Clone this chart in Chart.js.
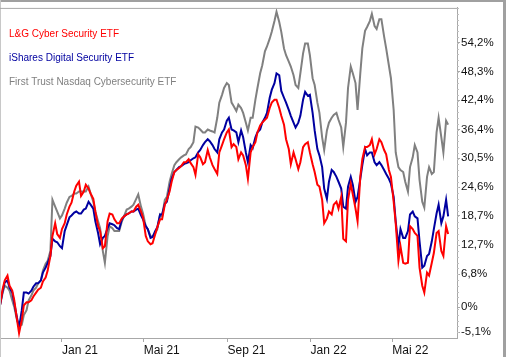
<!DOCTYPE html>
<html><head><meta charset="utf-8">
<script src="https://cdn.jsdelivr.net/npm/chart.js@4"></script>
<style>html,body{margin:0;padding:0;background:#fff;overflow:hidden}#wrap{position:relative;width:506px;height:357px}</style>
</head><body><div id="wrap"><canvas id="c" width="506" height="357"></canvas></div>
<script>
const dates = ['2020-10-02','2020-10-06','2020-10-09','2020-10-13','2020-10-16','2020-10-20','2020-10-23','2020-10-27','2020-10-30','2020-11-03',
'2020-11-06','2020-11-10','2020-11-13','2020-11-17','2020-11-20','2020-11-24','2020-11-27','2020-12-01','2020-12-04','2020-12-08',
'2020-12-11','2020-12-15','2020-12-18','2020-12-22','2020-12-25','2020-12-29','2021-01-01','2021-01-05','2021-01-08','2021-01-12',
'2021-01-15','2021-01-19','2021-01-22','2021-01-26','2021-01-29','2021-02-02','2021-02-05','2021-02-09','2021-02-12','2021-02-16',
'2021-02-19','2021-02-23','2021-02-26','2021-03-02','2021-03-05','2021-03-09','2021-03-12','2021-03-16','2021-03-19','2021-03-23',
'2021-03-26','2021-03-30','2021-04-02','2021-04-06','2021-04-09','2021-04-13','2021-04-16','2021-04-20','2021-04-23','2021-04-27',
'2021-04-30','2021-05-04','2021-05-07','2021-05-11','2021-05-14','2021-05-18','2021-05-21','2021-05-25','2021-05-28','2021-06-01',
'2021-06-04','2021-06-08','2021-06-11','2021-06-15','2021-06-18','2021-06-22','2021-06-25','2021-06-29','2021-07-02','2021-07-06',
'2021-07-09','2021-07-13','2021-07-16','2021-07-20','2021-07-23','2021-07-27','2021-07-30','2021-08-03','2021-08-06','2021-08-10',
'2021-08-13','2021-08-17','2021-08-20','2021-08-24','2021-08-27','2021-08-31','2021-09-03','2021-09-07','2021-09-10','2021-09-14',
'2021-09-17','2021-09-21','2021-09-24','2021-09-28','2021-10-01','2021-10-05','2021-10-08','2021-10-12','2021-10-15','2021-10-19',
'2021-10-22','2021-10-26','2021-10-29','2021-11-02','2021-11-05','2021-11-09','2021-11-12','2021-11-16','2021-11-19','2021-11-23',
'2021-11-26','2021-11-30','2021-12-03','2021-12-07','2021-12-10','2021-12-14','2021-12-17','2021-12-21','2021-12-24','2021-12-28',
'2021-12-31','2022-01-04','2022-01-07','2022-01-11','2022-01-14','2022-01-18','2022-01-21','2022-01-25','2022-01-28','2022-02-01',
'2022-02-04','2022-02-08','2022-02-11','2022-02-15','2022-02-18','2022-02-22','2022-02-25','2022-03-01','2022-03-04','2022-03-08',
'2022-03-11','2022-03-15','2022-03-18','2022-03-22','2022-03-25','2022-03-29','2022-04-01','2022-04-05','2022-04-08','2022-04-12',
'2022-04-15','2022-04-19','2022-04-22','2022-04-26','2022-04-29','2022-05-03','2022-05-06','2022-05-10','2022-05-13','2022-05-17',
'2022-05-20','2022-05-24','2022-05-27','2022-05-31','2022-06-03','2022-06-07','2022-06-10','2022-06-14','2022-06-17','2022-06-21',
'2022-06-24','2022-06-28','2022-07-01','2022-07-05','2022-07-08','2022-07-12','2022-07-15','2022-07-19','2022-07-22'];

const seriesNames = ['L&G Cyber Security ETF','iShares Digital Security ETF','First Trust Nasdaq Cybersecurity ETF'];

const lgCyber = [0.4,3.8,5.5,6.5,4.4,3.4,1.4,-2.6,-5.3,-2.6,
0.4,1.0,1.0,1.4,2.2,3.0,3.6,4.0,5.3,6.1,
7.5,10.5,14.6,17.2,15.0,14.2,16.0,17.2,19.0,20.6,
21.4,23.7,24.9,25.7,22.8,23.7,25.1,24.3,23.3,22.2,
19.6,16.6,15.6,12.1,12.5,17.6,19.2,19.0,18.0,17.2,
17.2,18.2,18.6,19.0,19.2,19.6,19.6,20.6,21.0,19.6,
18.4,14.6,13.5,12.9,13.1,15.0,16.4,18.0,18.0,21.0,
22.0,23.7,25.7,27.7,28.1,28.5,28.9,29.7,29.7,30.3,
29.5,28.7,27.1,31.3,30.7,29.3,29.7,32.2,30.7,29.1,
28.3,27.3,31.7,33.2,34.4,35.8,36.4,32.8,33.4,32.8,
30.3,31.7,31.1,29.1,26.3,31.7,32.8,33.8,35.8,37.2,
37.8,38.4,38.8,40.8,41.9,42.5,42.5,40.8,39.2,37.4,
34.4,32.4,29.3,31.7,30.3,28.3,29.7,32.8,33.4,33.8,
31.7,29.3,27.7,25.1,24.7,22.0,17.2,18.2,19.6,19.0,
21.0,21.6,20.2,22.6,14.0,13.5,22.0,25.3,23.1,20.2,
17.6,26.7,30.3,32.8,32.8,33.2,34.4,31.3,32.4,34.4,
33.8,32.2,31.3,28.1,26.7,21.6,17.2,9.5,12.5,9.1,
8.9,9.1,16.6,16.0,15.2,14.6,8.1,4.4,3.0,7.1,
6.5,9.1,11.1,15.2,15.6,11.5,10.5,16.6,15.0];

const iSharesDigital = [0.4,3.4,5.1,5.5,4.0,3.0,0.8,-2.2,-4.2,-0.6,
3.0,3.0,2.8,3.4,4.2,4.9,4.9,5.5,7.1,8.1,
9.1,10.5,14.0,13.5,13.3,12.5,12.1,15.6,16.8,18.4,
18.8,19.4,19.6,19.2,19.2,20.0,20.2,21.6,21.0,20.2,
17.6,15.2,12.9,14.2,14.6,16.2,17.2,17.0,16.8,16.2,
16.0,18.0,18.6,19.0,19.2,19.6,19.6,20.0,20.2,18.8,
18.0,16.6,16.0,14.2,14.4,15.6,16.4,19.0,19.0,21.2,
21.6,24.3,26.3,27.7,28.1,28.7,28.9,29.3,29.5,29.7,
30.1,30.5,30.7,31.7,32.2,33.2,33.8,34.4,34.0,33.2,
32.4,31.7,34.4,35.8,36.4,38.2,38.8,36.4,36.2,35.8,
33.8,36.2,34.8,31.7,29.7,33.2,32.6,34.8,35.8,36.4,
37.8,38.8,39.8,42.9,44.5,45.9,47.9,47.5,44.3,42.9,
41.9,40.4,39.2,37.8,36.8,37.8,39.2,42.5,44.1,43.3,
43.5,39.8,36.2,32.4,31.1,28.7,24.3,22.2,25.7,28.1,
27.7,26.7,25.7,24.3,20.6,20.2,24.7,26.7,25.1,21.6,
22.6,26.3,29.1,32.4,31.1,31.7,31.7,29.7,29.1,29.7,
29.1,28.1,27.3,26.3,25.3,22.6,17.6,12.5,16.0,14.2,
14.2,15.6,19.0,19.6,18.6,18.2,13.5,8.1,8.5,10.5,
10.9,13.5,16.0,19.2,21.0,17.2,18.6,22.0,18.6];

const firstTrustCyber = [0.4,3.0,4.4,4.0,3.4,1.4,0.0,-2.6,-3.8,-3.6,
-1.6,-0.6,1.4,2.4,3.4,4.0,4.9,5.5,7.5,8.9,
9.5,11.5,22.0,20.6,19.6,18.2,18.8,20.2,21.4,22.6,
22.8,23.3,23.3,23.7,23.7,23.7,23.7,24.7,23.3,21.6,
19.6,17.6,16.2,11.5,9.1,14.6,16.6,16.2,15.6,15.6,
15.6,17.6,18.6,20.0,20.2,20.6,21.0,22.2,23.1,20.6,
19.2,16.6,16.0,14.6,14.4,15.2,16.0,19.0,18.6,22.0,
22.6,25.7,27.3,29.1,29.7,30.3,30.7,31.1,31.3,32.4,
32.8,33.8,37.0,36.8,36.4,35.8,35.8,36.4,36.2,36.0,
35.8,38.8,41.9,43.5,44.9,45.9,45.5,41.9,41.2,40.2,
41.5,40.8,39.8,37.8,36.2,38.8,38.8,42.5,44.9,47.9,
49.5,52.4,53.4,55.0,56.4,58.6,60.5,58.4,56.4,53.0,
51.6,50.3,49.3,47.5,45.5,44.9,47.9,52.0,54.0,54.0,
51.6,46.9,45.5,41.9,39.8,34.8,32.2,36.2,37.8,38.8,
39.4,39.8,38.4,36.8,32.8,37.8,44.9,49.3,47.9,45.9,
40.4,47.9,53.0,56.6,57.4,58.6,60.1,57.6,57.0,59.0,
59.0,55.4,53.0,49.5,46.9,40.4,31.7,28.7,28.1,27.7,
25.7,23.7,28.7,30.7,33.2,31.7,26.1,21.6,20.4,26.7,
28.7,27.3,27.7,35.8,38.8,34.8,31.7,38.2,37.4];

const xTickDates = ['2021-01-01','2021-05-01','2021-09-01','2022-01-01','2022-05-01'];
const xTickLabels = ['Jan 21','Mai 21','Sep 21','Jan 22','Mai 22'];
const yTickValues = [-5.1,0,6.8,12.7,18.7,24.6,30.5,36.4,42.4,48.3,54.2];
const yTickLabels = ['-5,1%','0%','6,8%','12,7%','18,7%','24,6%','30,5%','36,4%','42,4%','48,3%','54,2%'];
const seriesColors = ['#ff0000','#0000a0','#808080'];

function dayNum(s){const p=s.split('-').map(Number);return Date.UTC(p[0],p[1]-1,p[2])/86400000;}
const allSeries = [lgCyber, iSharesDigital, firstTrustCyber];
const FONT = '"Liberation Sans", Arial, sans-serif';
const AXIS = '#a8a8a8';

const framePlugin = {
  id:'frame',
  beforeDraw(chart){
    const c=chart.ctx; c.save(); c.fillStyle='#fff'; c.fillRect(0,0,chart.width,chart.height); c.restore();
  },
  afterDraw(chart){
    const c=chart.ctx, a=chart.chartArea, ys=chart.scales.y;
    c.save();
    c.fillStyle='#a0a0a0';
    c.fillRect(0,0,chart.width,2);
    c.fillRect(chart.width-3,0,3,chart.height);
    c.fillStyle='#c8c8c8';
    c.fillRect(0,0,1,chart.height);
    c.strokeStyle=AXIS; c.lineWidth=1;
    c.beginPath(); c.moveTo(a.left,a.top+0.5); c.lineTo(a.right,a.top+0.5); c.stroke();
    // minor ticks on the value axis (fifths of the major step)
    const step=(yTickValues[yTickValues.length-1]-yTickValues[2])/(yTickValues.length-3)/5;
    c.strokeStyle='#c0c0c0'; c.beginPath();
    for(let v=yTickValues[0]; v<=ys.max; v+=step){
      const py=Math.round(ys.getPixelForValue(v))+0.5;
      c.moveTo(a.right,py); c.lineTo(a.right+2,py);
    }
    c.stroke();
    c.font='10px '+FONT; c.textBaseline='middle'; c.textAlign='left';
    seriesNames.forEach((name,i)=>{ c.fillStyle=seriesColors[i]; c.fillText(name, 9, 34+24*i); });
    c.restore();
  }
};

new Chart(document.getElementById('c'), {
  type:'line',
  data:{
    datasets: allSeries.map((vals,i)=>({
      label: seriesNames[i],
      data: vals.map((v,j)=>({x:dayNum(dates[j]), y:v})),
      borderColor: seriesColors[i], backgroundColor: seriesColors[i],
      borderWidth: 2, pointRadius: 0, tension: 0, fill:false
    }))
  },
  options:{
    responsive:false, animation:false, devicePixelRatio:1,
    layout:{padding:{top:4,left:0,right:0,bottom:0}},
    plugins:{legend:{display:false}, tooltip:{enabled:false}},
    scales:{
      x:{type:'linear', min:dayNum('2020-10-02'), max:dayNum('2022-08-04'),
        afterBuildTicks:s=>{s.ticks=xTickDates.map(d=>({value:dayNum(d)}));},
        afterFit:s=>{s.height=19;},
        ticks:{callback:(v,i)=>xTickLabels[i], align:'start', maxRotation:0, autoSkip:false, padding:1, color:'#111', font:{size:12, family:FONT}},
        grid:{drawOnChartArea:false, tickLength:4, color:AXIS},
        border:{color:AXIS}
      },
      y:{position:'right', min:-6.3, max:61.3,
        afterBuildTicks:s=>{s.ticks=yTickValues.map(v=>({value:v}));},
        afterFit:s=>{s.width=49;},
        ticks:{callback:(v,i)=>yTickLabels[i], autoSkip:false, padding:1, color:'#111', font:{size:11.5, family:FONT}},
        grid:{drawOnChartArea:false, tickLength:3, color:AXIS},
        border:{color:AXIS}
      }
    }
  },
  plugins:[framePlugin]
});
</script></body></html>
